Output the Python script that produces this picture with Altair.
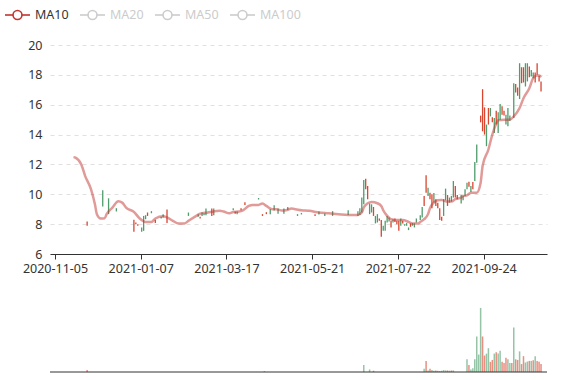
import altair as alt
import pandas as pd

# ---------------- layout (pixels) ----------------
W, H = 497, 327          # whole plot area (price + volume)
PRICE_H = 209            # price panel height
VOL_TOP, VOL_BOT = 255, 327
FONT = "Noto Sans"
UP, DOWN = "#d9452f", "#4f9c6c"
MA_COLOR = "#c23531"

# ---------------- data ----------------
N_DAYS = 250
axis_days = [0, 44, 88, 132, 176, 220]
axis_dates = ["2020-11-05", "2021-01-07", "2021-03-17", "2021-05-21", "2021-07-22", "2021-09-24"]

c_day = [16, 24, 27, 31, 40, 41, 42, 44, 45, 46, 47, 49, 51, 54, 55, 57, 68, 73, 74, 75, 76, 77, 80, 81,
         91, 92, 93, 95, 97, 104, 106, 108, 110, 112, 114, 117, 119, 124, 126, 133, 135, 138, 142, 150,
         155, 156, 157, 158, 159, 160, 161, 162, 163, 164, 165, 166, 167, 168, 169, 170, 171, 172, 173,
         174, 175, 176, 177, 178, 179, 180, 181, 182, 183, 184, 185, 187, 188, 189, 190, 191, 192, 193,
         194, 195, 196, 197, 198, 199, 200, 201, 202, 203, 204, 205, 206, 208, 209, 210, 211, 212, 213,
         214, 215, 216, 218, 219, 220, 221, 222, 223, 224, 225, 226, 227, 228, 229, 230, 231, 232, 233,
         235, 236, 237, 238, 239, 240, 241, 242, 243, 244, 245, 246, 247, 248, 249]
c_low = [7.89, 9.18, 8.67, 8.85, 7.49, 8.00, 7.89, 7.49, 7.55, 8.33, 8.55, 8.73, 8.07, 8.38, 8.45, 8.07,
         8.55, 8.49, 8.38, 8.55, 8.60, 8.60, 8.55, 8.60,
         8.93, 8.69, 8.67, 8.93, 9.29, 9.65, 8.55, 8.67, 8.67, 8.91, 8.69, 8.69, 8.95, 8.55, 8.65, 8.55,
         8.65, 8.55, 8.55, 8.62,
         8.55, 8.62, 8.78, 9.33, 10.33, 9.67, 8.67, 8.78, 8.55, 8.05, 8.11, 8.22, 7.15, 7.55, 7.55, 8.11,
         8.18, 7.78, 8.11,
         8.15, 8.00, 7.55, 7.89, 8.05, 7.89, 7.89, 7.60, 7.82, 7.89, 7.78, 8.11, 8.27, 8.45, 9.22, 10.11,
         9.89, 9.67, 9.07,
         9.44, 9.22, 9.07, 8.27, 8.22, 8.55, 9.60, 9.22, 9.44, 9.51, 9.78, 9.78, 9.67, 9.38, 9.60, 9.89,
         10.33, 10.51, 10.15,
         10.33, 10.89, 12.11, 14.82, 14.22, 14.00, 13.22, 14.67, 15.22, 14.82, 14.11, 14.67, 14.11, 15.00,
         15.33, 15.27, 14.67, 14.56, 14.93,
         15.11, 16.82, 16.60, 16.38, 17.44, 17.49, 17.22, 17.56, 17.84, 17.89, 17.78, 17.49, 18.00, 17.56,
         16.89]
c_high = [8.18, 10.27, 9.73, 9.07, 8.29, 8.11, 8.00, 7.78, 8.55, 8.60, 8.78, 8.87, 8.29, 8.49, 8.67, 8.98,
          8.78, 8.67, 8.49, 8.78, 8.71, 9.04, 9.04, 9.04,
          9.07, 8.85, 8.85, 9.07, 9.47, 9.75, 8.67, 8.80, 9.00, 9.27, 9.04, 9.04, 9.15, 8.67, 8.75, 8.67,
          8.85, 8.71, 8.87, 8.93,
          8.87, 9.07, 9.78, 10.95, 11.04, 10.55, 9.38, 9.33, 9.15, 8.55, 8.67, 8.38, 8.27, 7.89, 8.22, 8.55,
          8.45, 8.22, 8.33,
          8.38, 8.22, 8.22, 8.38, 8.22, 8.00, 8.07, 7.78, 8.05, 8.07, 8.05, 8.38, 8.60, 9.15, 9.89, 11.27,
          10.44, 10.11, 10.00,
          10.09, 9.67, 9.44, 9.07, 8.49, 9.67, 10.38, 9.95, 9.78, 9.89, 10.89, 10.55, 9.95, 9.95, 9.90,
          10.33, 10.78, 10.84, 10.55,
          10.82, 12.16, 13.33, 15.27, 17.04, 15.82, 14.67, 15.78, 15.78, 15.16, 15.11, 15.60, 15.49, 16.04,
          15.89, 15.60, 15.33, 15.78, 15.27,
          17.44, 17.38, 17.16, 18.78, 18.51, 18.51, 18.78, 18.78, 18.56, 18.33, 18.16, 18.16, 18.78, 17.93,
          17.56]
c_up = [1, 0, 0, 0, 1, 1, 1, 0, 0, 0, 1, 0, 1, 0, 0, 1, 0, 0, 1, 0, 0, 0, 1, 0,
        0, 1, 0, 1, 1, 0, 1, 1, 0, 0, 0, 0, 0, 0, 0, 1, 0, 0, 0, 0,
        0, 0, 0, 0, 1, 1, 0, 0, 1, 0, 0, 1, 1, 0, 0, 0, 0, 1, 0,
        1, 1, 1, 0, 1, 0, 0, 0, 1, 0, 0, 0, 0, 0, 1, 1, 0, 1, 1,
        0, 1, 1, 1, 1, 0, 0, 1, 0, 0, 0, 1, 1, 0, 0, 0, 0, 1, 0,
        1, 0, 0, 1, 1, 1, 0, 1, 0, 1, 0, 1, 0, 0, 1, 1, 0, 0, 0,
        0, 1, 1, 0, 1, 1, 0, 0, 1, 0, 0, 1, 1, 1, 1]

ma_day = [9, 10, 13, 15, 18, 20, 21, 23, 25, 26, 29, 32, 34, 36, 40, 43, 46, 49, 51, 55, 57, 60, 63, 66,
          68, 72, 74, 78, 81, 84, 86, 89, 91, 94, 96, 99, 101, 104, 106, 108, 111, 113, 116, 118, 121,
          123, 126, 130, 135, 140, 145, 150, 155, 157, 158, 160, 162, 165, 167, 168, 170, 172, 176, 178,
          181, 183, 186, 187, 189, 191, 192, 194, 196, 198, 201, 203, 205, 208, 209, 211, 213, 216, 218,
          219, 222, 224, 226, 227, 230, 233, 235, 238, 240, 243, 245, 247, 248, 249]
ma_val = [12.49, 12.45, 12.00, 11.22, 10.33, 9.33, 8.67, 8.38, 8.40, 8.67, 9.11, 9.53, 9.44, 9.11, 8.82,
          8.38, 8.15, 8.15, 8.38, 8.53, 8.45, 8.22, 8.05, 8.05,
          8.22, 8.55, 8.70, 8.78, 8.85, 8.89, 8.85, 8.73, 8.82, 8.85, 8.93, 9.22, 9.29, 9.29, 9.38, 9.22,
          9.00, 9.00, 8.91, 8.93, 9.04,
          9.00, 8.93, 8.89, 8.78, 8.73, 8.67, 8.62, 8.62, 8.78, 9.11, 9.40, 9.49, 9.40, 9.22, 8.93, 8.55,
          8.33, 8.27, 8.27,
          8.15, 8.05, 8.05, 8.15, 8.33, 8.67, 9.07, 9.44, 9.60, 9.62, 9.51, 9.51, 9.67, 9.78, 9.89, 9.93,
          10.11, 10.11, 10.78,
          11.89, 13.00, 14.00, 14.73, 14.96, 15.00, 15.00, 15.22, 15.78, 16.44, 17.11, 17.78, 17.96,
          17.95, 17.84]

v_day = [16, 107, 158, 161, 163, 189, 190, 191, 192, 193, 194, 195, 196, 197, 198, 199, 200, 201, 202,
         203, 204, 211, 212, 213, 214, 215, 216, 217, 218, 219, 220, 221, 222, 223, 224, 225, 226, 227,
         228, 229, 230, 231, 232, 233, 234, 235, 236, 237, 238, 239, 240, 241, 242, 243, 244, 245, 246,
         247, 248, 249]
v_val = [6, 3, 22, 8, 4, 10, 35, 5, 10, 6, 4, 5, 4, 3, 4, 6, 5, 5, 4,
         5, 5, 40, 22, 8, 12, 40, 112, 55, 202, 112, 52, 58, 75, 32, 38, 58, 62, 58,
         67, 32, 28, 45, 40, 28, 28, 140, 40, 38, 65, 25, 50, 30, 33, 35, 35, 37, 50,
         35, 32, 25]
v_up = [1, 0, 0, 0, 1, 0, 1, 0, 1, 0, 0, 1, 0, 0, 0, 0, 0, 1, 0,
        1, 0, 0, 1, 0, 0, 0, 0, 0, 0, 1, 1, 0, 0, 1, 1, 0, 1, 0,
        0, 1, 1, 1, 0, 0, 1, 0, 1, 1, 0, 1, 1, 0, 0, 1, 0, 1, 0,
        1, 1, 1]
VMAX = 227

legend_names = ["MA10", "MA20", "MA50", "MA100"]
legend_active = [1, 0, 0, 0]

# ---------------- tables ----------------
candles = pd.DataFrame({"day": c_day, "low": c_low, "high": c_high,
                        "dir": ["up" if u else "down" for u in c_up]})
ma = pd.DataFrame({"day": ma_day, "ma10": ma_val})
vol = pd.DataFrame({"day": v_day, "vol": v_val, "dir": ["up" if u else "down" for u in v_up]})

x_scale = alt.Scale(domain=[0, N_DAYS], nice=False, zero=False)
price_scale = alt.Scale(domain=[6, 20], range=[PRICE_H, 0], nice=False, zero=False)
vol_scale = alt.Scale(domain=[0, VMAX], range=[VOL_BOT, VOL_TOP], nice=False, zero=True)
color_scale = alt.Scale(domain=["up", "down"], range=[UP, DOWN])

label_expr = "[" + ",".join("'%s'" % d for d in axis_dates) + "][indexof([" + \
             ",".join(str(v) for v in axis_days) + "], datum.value)]"

x_axis = alt.Axis(values=axis_days, labelExpr=label_expr, grid=False, domainColor="#333",
                  tickColor="#333", tickSize=5, labelColor="#333", labelFont=FONT, labelFontSize=12.5,
                  labelPadding=3, labelFlush=False, labelOverlap=False, offset=-(H - PRICE_H), title=None)
y_axis = alt.Axis(values=list(range(6, 21, 2)), grid=True, gridDash=[4, 4], gridColor="#e0e0e0",
                  domain=False, ticks=False, tickSize=0, labelPadding=8, labelColor="#333",
                  labelFont=FONT, labelFontSize=12.5, title=None)

candle_layer = alt.Chart(candles).transform_calculate(xc="datum.day + 0.5").mark_rule(
    strokeWidth=1.3).encode(
    x=alt.X("xc:Q", scale=x_scale, axis=x_axis),
    y=alt.Y("low:Q", scale=price_scale, axis=y_axis),
    y2="high:Q",
    color=alt.Color("dir:N", scale=color_scale, legend=None),
)

ma_layer = alt.Chart(ma).transform_calculate(xc="datum.day + 0.5").mark_line(
    color=MA_COLOR, opacity=0.5, strokeWidth=2.5, interpolate="monotone").encode(
    x=alt.X("xc:Q", scale=x_scale),
    y=alt.Y("ma10:Q", scale=price_scale),
)

price = alt.layer(candle_layer, ma_layer)

vol_layer = alt.Chart(vol).transform_calculate(xc="datum.day + 0.5").mark_bar(
    size=1.5, opacity=0.6).encode(
    x=alt.X("xc:Q", scale=x_scale),
    y=alt.Y("vol:Q", scale=vol_scale, axis=None),
    color=alt.Color("dir:N", scale=color_scale, legend=None),
)

base_one = pd.DataFrame({"a": [0]})
vol_axis_line = alt.Chart(base_one).mark_rule(color="#333", strokeWidth=1).encode(
    x=alt.value(0), x2=alt.value(W), y=alt.value(VOL_BOT))

legend_layers = []
for k, name in enumerate(legend_names):
    col = MA_COLOR if legend_active[k] else "#ccc"
    tcol = "#333" if legend_active[k] else "#ccc"
    x0 = -45 + 75 * k
    legend_layers.append(alt.Chart(base_one).mark_rule(color=col, strokeWidth=1.6).encode(
        x=alt.value(x0), x2=alt.value(x0 + 25), y=alt.value(-30)))
    legend_layers.append(alt.Chart(base_one).mark_point(
        shape="circle", size=80, filled=True, fill="white", stroke=col, strokeWidth=1.6,
        opacity=1).encode(x=alt.value(x0 + 12.5), y=alt.value(-30)))
    legend_layers.append(alt.Chart(base_one).mark_text(
        text=name, align="left", baseline="middle", font=FONT, fontSize=12.5, color=tcol).encode(
        x=alt.value(x0 + 30), y=alt.value(-30)))

chart = alt.layer(price, vol_layer, vol_axis_line, *legend_layers).resolve_scale(
    y="independent").properties(
    width=W, height=H,
    autosize=alt.AutoSizeParams(type="none"),
    padding={"left": 50, "top": 45, "right": 30, "bottom": 8},
    background="white",
).configure_view(stroke=None)

chart.save("out.html", embed_options={"renderer": "svg", "actions": False})
